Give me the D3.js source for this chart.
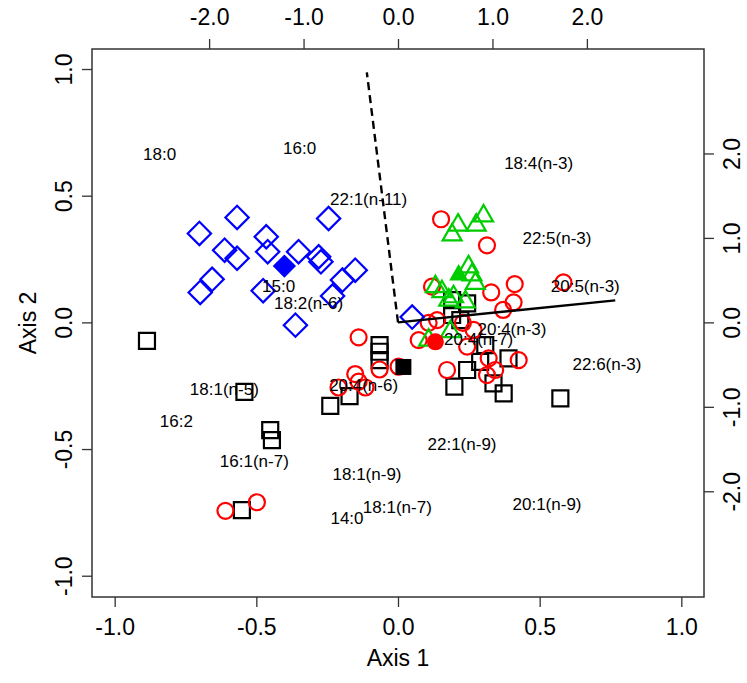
<!DOCTYPE html>
<html>
<head>
<meta charset="utf-8">
<script src="https://cdn.jsdelivr.net/npm/d3@7"></script>
<style>
  body { margin: 0; background: #fff; }
  text { font-family: "Liberation Sans", Arial, sans-serif; fill: #000; }
</style>
</head>
<body>
<div id="vis"></div>
<script>
// Frame and plot box (R style: box drawn round the plot region)
const FRAME_WIDTH = 747;
const FRAME_HEIGHT = 683;
const BOX = {left: 92, right: 704, top: 49, bottom: 597};

// sample scores on Axis 1 / Axis 2, one array per group
const SQUARES = [[-0.886,-0.073],[-0.542,-0.274],[-0.451,-0.425],[-0.445,-0.465],[-0.239,-0.330],
  [-0.171,-0.291],[-0.065,-0.090],[-0.065,-0.116],[-0.065,-0.149],[-0.551,-0.741],
  [0.191,0.088],[0.244,0.075],[0.191,0.029],[0.220,0.009],[0.308,-0.090],[0.290,-0.156],
  [0.244,-0.188],[0.390,-0.142],[0.199,-0.254],[0.337,-0.241],[0.373,-0.280],[0.573,-0.300]];
const CIRCLES = [[0.152,0.407],[0.314,0.304],[0.412,0.151],[0.329,0.118],[0.408,0.079],
  [0.371,0.049],[0.120,0.141],[0.584,0.158],[0.138,0.009],[0.108,-0.002],[0.229,-0.002],
  [0.073,-0.070],[0.244,-0.096],[0.267,-0.030],[0.320,-0.142],[0.343,-0.188],[0.314,-0.208],
  [0.426,-0.149],[0.173,-0.188],[0.002,-0.175],[-0.139,-0.059],[-0.151,-0.204],[-0.210,-0.257],
  [-0.139,-0.234],[-0.115,-0.257],[-0.065,-0.186],[-0.609,-0.744],[-0.498,-0.710]];
const TRIANGLES = [[0.212,0.384],[0.191,0.345],[0.276,0.384],[0.302,0.420],[0.249,0.219],
  [0.261,0.187],[0.273,0.154],[0.132,0.141],[0.155,0.121],[0.196,0.101],[0.179,0.088],
  [0.238,0.081],[0.185,-0.037],[0.108,-0.070]];
const DIAMONDS = [[-0.568,0.414],[-0.701,0.351],[-0.612,0.285],[-0.568,0.253],[-0.465,0.338],
  [-0.460,0.279],[-0.351,0.279],[-0.280,0.259],[-0.272,0.239],[-0.245,0.410],[-0.151,0.206],
  [-0.196,0.167],[-0.656,0.170],[-0.698,0.118],[-0.476,0.125],[-0.231,0.104],[-0.362,-0.011],
  [0.050,0.021]];

// group centroids (filled symbols)
const CENTROIDS = [
  {shape: "square", color: "#000000", pos: [0.019,-0.176]},
  {shape: "circle", color: "#ff0000", pos: [0.132,-0.077]},
  {shape: "triangle", color: "#00cd00", pos: [0.214,0.187]},
  {shape: "diamond", color: "#0000ff", pos: [-0.401,0.222]}
];

// fatty acid labels on the top / right scale
const VAR_NAMES = ["18:0","16:0","22:1(n-11)","15:0","18:2(n-6)","18:4(n-3)","22:5(n-3)",
  "20:5(n-3)","20:4(n-3)","20:4(n-7)","22:6(n-3)","18:1(n-5)","16:2","20:4(n-6)","16:1(n-7)",
  "18:1(n-9)","14:0","18:1(n-7)","22:1(n-9)","20:1(n-9)"];
const VAR_X = [-2.524,-1.042,-0.311,-1.264,-0.947,1.489,1.683,1.983,1.207,0.853,2.213,
  -1.839,-2.347,-0.364,-1.521,-0.328,-0.540,-0.007,0.678,1.578];
const VAR_Y = [1.993,2.067,1.460,0.430,0.232,1.890,1.002,0.433,-0.079,-0.198,-0.497,
  -0.793,-1.165,-0.742,-1.642,-1.800,-2.321,-2.184,-1.445,-2.155];

// two fitted vectors from the origin (top / right scale)
const ARROW_X = [2.30, -0.33];
const ARROW_Y = [0.26, 2.96];
const ARROW_DASH = ["none", "8,5"];

// tick values
const X_TICKS = [-1, -0.5, 0, 0.5, 1];
const Y_TICKS = [-1, -0.5, 0, 0.5, 1];
const TOP_TICKS = [-2, -1, 0, 1, 2];
const RIGHT_TICKS = [-2, -1, 0, 1, 2];

const X_SCALE = d3.scaleLinear().domain([-1.08, 1.08]).range([BOX.left, BOX.right]);
const Y_SCALE = d3.scaleLinear().domain([-1.084, 1.079]).range([BOX.bottom, BOX.top]);
// secondary axes are 3x the primary ones
const XS_SCALE = d3.scaleLinear().domain([-1.08 * 3, 1.08 * 3]).range([BOX.left, BOX.right]);
const YS_SCALE = d3.scaleLinear().domain([-1.084 * 3, 1.079 * 3]).range([BOX.bottom, BOX.top]);

const fmt = d => d.toFixed(1);

const FRAME = d3.select("#vis")
                .append("svg")
                  .attr("width", FRAME_WIDTH)
                  .attr("height", FRAME_HEIGHT);

function styleAxis(g) {
  g.select(".domain").remove();
  g.selectAll(".tick line").attr("stroke", "#333").attr("stroke-width", 1.3);
  g.selectAll(".tick text").attr("font-size", "23px").attr("fill", "#000")
    .attr("font-family", '"Liberation Sans", Arial, sans-serif');
}

// bottom axis
FRAME.append("g")
     .attr("transform", "translate(0," + BOX.bottom + ")")
     .call(d3.axisBottom(X_SCALE).tickValues(X_TICKS).tickFormat(fmt).tickSize(10).tickPadding(12))
     .call(styleAxis);

// top axis
FRAME.append("g")
     .attr("transform", "translate(0," + BOX.top + ")")
     .call(d3.axisTop(XS_SCALE).tickValues(TOP_TICKS).tickFormat(fmt).tickSize(10).tickPadding(14))
     .call(styleAxis);

// left axis, labels parallel to axis
FRAME.append("g")
     .attr("transform", "translate(" + BOX.left + ",0)")
     .call(d3.axisLeft(Y_SCALE).tickValues(Y_TICKS).tickFormat(fmt).tickSize(10))
     .call(styleAxis)
     .selectAll(".tick text")
       .attr("x", null).attr("dy", null)
       .attr("text-anchor", "middle")
       .attr("transform", "translate(-20,0) rotate(-90)");

// right axis
FRAME.append("g")
     .attr("transform", "translate(" + BOX.right + ",0)")
     .call(d3.axisRight(YS_SCALE).tickValues(RIGHT_TICKS).tickFormat(fmt).tickSize(10))
     .call(styleAxis)
     .selectAll(".tick text")
       .attr("x", null).attr("dy", null)
       .attr("text-anchor", "middle")
       .attr("transform", "translate(36,0) rotate(-90)");

// box
FRAME.append("rect")
     .attr("x", BOX.left).attr("y", BOX.top)
     .attr("width", BOX.right - BOX.left).attr("height", BOX.bottom - BOX.top)
     .attr("fill", "none").attr("stroke", "#333").attr("stroke-width", 1.5);

// axis titles
FRAME.append("text")
     .attr("x", (BOX.left + BOX.right) / 2).attr("y", 666)
     .attr("text-anchor", "middle").attr("font-size", "23px")
     .text("Axis 1");
FRAME.append("text")
     .attr("transform", "translate(36," + (BOX.top + BOX.bottom) / 2 + ") rotate(-90)")
     .attr("text-anchor", "middle").attr("font-size", "23px")
     .text("Axis 2");

const SYMBOLS = {
  square: d3.symbol().type(d3.symbolSquare).size(256)(),
  diamond: d3.symbol().type(d3.symbolSquare).size(272)(),
  triangle: d3.symbol().type(d3.symbolTriangle).size(156)()
};

function place(d) {
  return "translate(" + X_SCALE(d[0]) + "," + Y_SCALE(d[1]) + ")";
}

// open squares
FRAME.selectAll(".sq")
     .data(SQUARES).enter()
     .append("path")
       .attr("d", SYMBOLS.square)
       .attr("transform", d => place(d))
       .attr("fill", "none").attr("stroke", "#000").attr("stroke-width", 2.2);

// open circles
FRAME.selectAll(".ci")
     .data(CIRCLES).enter()
     .append("circle")
       .attr("cx", d => X_SCALE(d[0]))
       .attr("cy", d => Y_SCALE(d[1]))
       .attr("r", 8)
       .attr("fill", "none").attr("stroke", "#ff0000").attr("stroke-width", 2.2);

// open triangles
FRAME.selectAll(".tr")
     .data(TRIANGLES).enter()
     .append("path")
       .attr("d", SYMBOLS.triangle)
       .attr("transform", d => place(d))
       .attr("fill", "none").attr("stroke", "#00cd00").attr("stroke-width", 2.2);

// open diamonds
FRAME.selectAll(".di")
     .data(DIAMONDS).enter()
     .append("path")
       .attr("d", SYMBOLS.diamond)
       .attr("transform", d => place(d) + " rotate(45)")
       .attr("fill", "none").attr("stroke", "#0000ff").attr("stroke-width", 2.2);

// filled centroids
CENTROIDS.forEach(c => {
  if (c.shape == "circle") {
    FRAME.append("circle")
         .attr("cx", X_SCALE(c.pos[0])).attr("cy", Y_SCALE(c.pos[1])).attr("r", 8.5)
         .attr("fill", c.color);
  } else {
    FRAME.append("path")
         .attr("d", SYMBOLS[c.shape])
         .attr("transform", place(c.pos) + (c.shape == "diamond" ? " rotate(45)" : ""))
         .attr("fill", c.color);
  }
});

// variable labels
FRAME.selectAll(".lab")
     .data(VAR_NAMES).enter()
     .append("text")
       .attr("x", (d, i) => XS_SCALE(VAR_X[i]))
       .attr("y", (d, i) => YS_SCALE(VAR_Y[i]))
       .attr("dy", "0.35em")
       .attr("text-anchor", "middle")
       .attr("font-size", "17px")
       .text(d => d);

// vectors
FRAME.selectAll(".arrow")
     .data(ARROW_X).enter()
     .append("line")
       .attr("x1", XS_SCALE(0)).attr("y1", YS_SCALE(0))
       .attr("x2", d => XS_SCALE(d))
       .attr("y2", (d, i) => YS_SCALE(ARROW_Y[i]))
       .attr("stroke", "#000").attr("stroke-width", 2.4)
       .attr("stroke-dasharray", (d, i) => ARROW_DASH[i]);
</script>
</body>
</html>
